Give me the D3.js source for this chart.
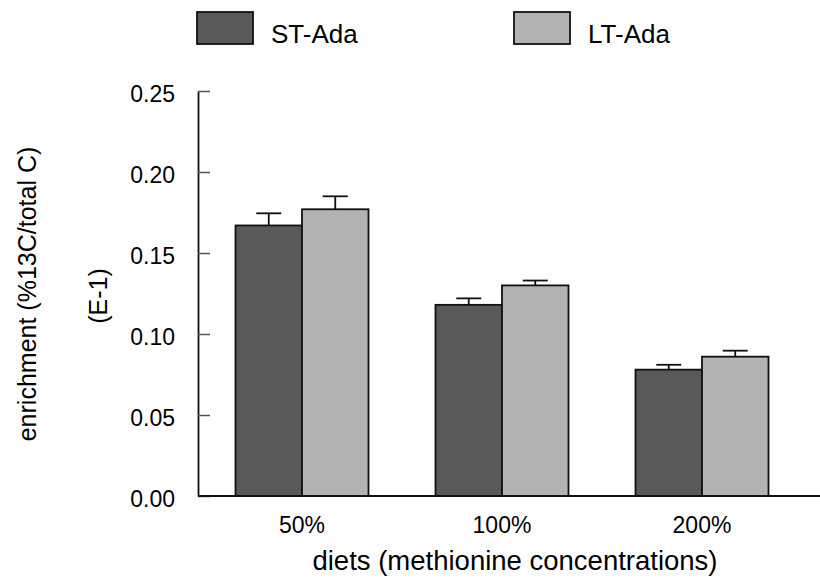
<!DOCTYPE html>
<html>
<head>
<meta charset="utf-8">
<script src="https://cdn.jsdelivr.net/npm/d3@7"></script>
<style>
  body { margin:0; background:#fff; }
  text { font-family: Arial, "Liberation Sans", sans-serif; fill:#000; }
</style>
</head>
<body>
<div class="canvas"></div>
<script>
const diets = ["50%", "100%", "200%"]
const series = ["ST-Ada", "LT-Ada"]
const stValues = [0.167, 0.118, 0.078]
const stErrors = [0.0075, 0.004, 0.003]
const ltValues = [0.177, 0.130, 0.086]
const ltErrors = [0.008, 0.003, 0.0037]
const yTicks = [0, 0.05, 0.10, 0.15, 0.20, 0.25]

const fills = { "ST-Ada": "#595959", "LT-Ada": "#b3b3b3" }
const dim = { width: 820, height: 580 }
const plot = { left: 198, right: 820, top: 91, bottom: 496 }

const svg = d3.select(".canvas").append("svg").attr("width", dim.width).attr("height", dim.height)

const data = diets.map((d, i) => ({
  diet: d,
  bars: [
    { s: "ST-Ada", v: stValues[i], e: stErrors[i] },
    { s: "LT-Ada", v: ltValues[i], e: ltErrors[i] }
  ]
}))

const y = d3.scaleLinear().domain([0, 0.25]).range([plot.bottom, plot.top])
const x0 = d3.scaleBand().domain(diets).range([202, 802]).paddingInner(0.335).paddingOuter(0.1675)
const x1 = d3.scaleBand().domain(series).range([0, x0.bandwidth()])

// bars
const groups = svg.append("g").selectAll("g").data(data).enter().append("g")
  .attr("transform", d => `translate(${x0(d.diet)},0)`)

groups.selectAll("rect").data(d => d.bars).enter().append("rect")
  .attr("x", d => x1(d.s))
  .attr("y", d => y(d.v))
  .attr("width", x1.bandwidth())
  .attr("height", d => y(0) - y(d.v))
  .attr("fill", d => fills[d.s])
  .attr("stroke", "#111")
  .attr("stroke-width", 1.8)

// error bars (upper only)
const cap = 25
const err = groups.selectAll("g.err").data(d => d.bars).enter().append("g").attr("class", "err")
err.append("line")
  .attr("x1", d => x1(d.s) + x1.bandwidth() / 2)
  .attr("x2", d => x1(d.s) + x1.bandwidth() / 2)
  .attr("y1", d => y(d.v))
  .attr("y2", d => y(d.v + d.e))
  .attr("stroke", "#111").attr("stroke-width", 1.8)
err.append("line")
  .attr("x1", d => x1(d.s) + x1.bandwidth() / 2 - cap / 2)
  .attr("x2", d => x1(d.s) + x1.bandwidth() / 2 + cap / 2)
  .attr("y1", d => y(d.v + d.e))
  .attr("y2", d => y(d.v + d.e))
  .attr("stroke", "#111").attr("stroke-width", 1.8)

// y axis
const yAxis = d3.axisLeft(y).tickValues(yTicks).tickFormat(d3.format(".2f")).tickSizeInner(-12).tickSizeOuter(0).tickPadding(23)
const yg = svg.append("g").attr("transform", `translate(${plot.left},0)`).call(yAxis)
yg.select(".domain").attr("stroke", "#111").attr("stroke-width", 1.8)
yg.selectAll(".tick line").attr("stroke", "#555").attr("stroke-width", 1.5)
yg.selectAll(".tick text").attr("font-size", 23).attr("font-family", "Arial, 'Liberation Sans', sans-serif").attr("fill", "#000").attr("dy", "0.45em")

// x axis line
svg.append("line")
  .attr("x1", plot.left).attr("x2", plot.right)
  .attr("y1", y(0)).attr("y2", y(0))
  .attr("stroke", "#111").attr("stroke-width", 1.8)

// x tick labels
svg.append("g").selectAll("text").data(diets).enter().append("text")
  .attr("x", d => x0(d) + x0.bandwidth() / 2)
  .attr("y", 533)
  .attr("text-anchor", "middle")
  .attr("font-size", 23)
  .text(d => d)

// axis titles
svg.append("text").attr("x", 515).attr("y", 570).attr("text-anchor", "middle").attr("font-size", 27.5)
  .text("diets (methionine concentrations)")
svg.append("text").attr("transform", "translate(36,294) rotate(-90)").attr("text-anchor", "middle").attr("font-size", 25)
  .text("enrichment (%13C/total C)")
svg.append("text").attr("transform", "translate(107,296) rotate(-90)").attr("text-anchor", "middle").attr("font-size", 25)
  .text("(E-1)")

// legend
const legendX = [197, 514]
const legend = svg.append("g").selectAll("g").data(series).enter().append("g")
  .attr("transform", (d, i) => `translate(${legendX[i]},12)`)
legend.append("rect").attr("width", 56).attr("height", 32)
  .attr("fill", d => fills[d]).attr("stroke", "#111").attr("stroke-width", 1.8)
legend.append("text").attr("x", 74).attr("y", 31).attr("font-size", 26).text(d => d)
</script>
</body>
</html>
